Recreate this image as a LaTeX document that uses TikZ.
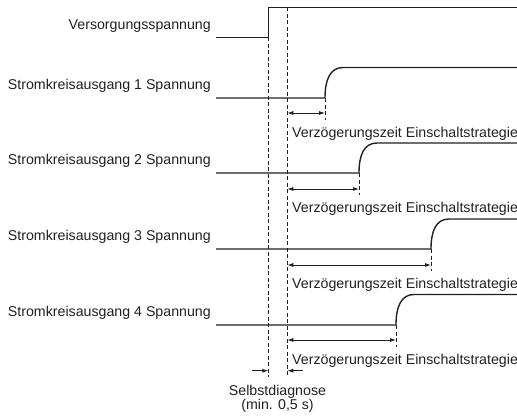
\documentclass[tikz,border=0pt]{standalone}
\usepackage{fontspec}
\setmainfont{Liberation Sans}
\usetikzlibrary{arrows.meta}
\definecolor{ink}{RGB}{35,31,32}
\begin{document}
\begin{tikzpicture}[x=1pt,y=-1pt,
  signal/.style={draw=ink,line width=1.4pt},
  guide/.style={draw=ink,line width=0.7pt,dash pattern=on 4pt off 2.5pt},
  span/.style={draw=ink,line width=0.8pt,{Latex[length=6pt,width=4pt]}-{Latex[length=6pt,width=4pt]}},
  pointer/.style={draw=ink,line width=0.8pt,-{Latex[length=6pt,width=4pt]}},
  lbl/.style={font=\fontsize{14.2}{16}\selectfont,text=ink,inner sep=0pt},
]
\useasboundingbox (0,0) rectangle (517,418);
% supply
\coordinate (s0) at (216,37.3);
\coordinate (s1) at (268.3,37.3);
\coordinate (s2) at (268.3,7.3);
\coordinate (s3) at (517,7.3);
\draw[signal] (s0) -- (s1) -- (s2) -- (s3);
\node[lbl,anchor=base east] (l0) at (211,29.5) {Versorgungsspannung};
% guides
\coordinate (g1b) at (268.3,377);
\coordinate (g2t) at (287.3,7.3);
\coordinate (g2b) at (287.3,377);
\draw[guide] (s1) -- (g1b);
\draw[guide] (g2t) -- (g2b);
% outputs
\foreach \i/\lo/\xr/\hi/\ay in {1/98/325/67.5/113, 2/173/359/143/189, 3/249/431/219/265, 4/325/396/294.5/340}{
  \coordinate (a\i) at (216,\lo);
  \coordinate (b\i) at (\xr,\lo);
  \coordinate (c\i) at (\xr+18,\hi);
  \coordinate (e\i) at (517,\hi);
  \coordinate (t\i) at (\xr,\lo+22);
  \coordinate (p\i) at (287.3,\ay);
  \coordinate (q\i) at (\xr,\ay);
  \draw[signal] (a\i) -- (b\i) .. controls (\xr,\lo-18) and (\xr+5,\hi) .. (c\i) -- (e\i);
  \draw[guide] (b\i) -- (t\i);
  \draw[span] (p\i) -- (q\i);
  \node[lbl,anchor=base east] (l\i) at (211,\lo-8.5) {Stromkreisausgang \i\ Spannung};
  \node[lbl,anchor=base west] (v\i) at (292,\lo+39) {Verzögerungszeit Einschaltstrategie};
}
% self diagnosis
\coordinate (m1) at (252,370.7);
\coordinate (m2) at (268.3,370.7);
\coordinate (m3) at (303,370.7);
\coordinate (m4) at (287.3,370.7);
\draw[pointer] (m1) -- (m2);
\draw[pointer] (m3) -- (m4);
\node[lbl,anchor=base] (sd1) at (277.5,395.5) {Selbstdiagnose};
\node[lbl,anchor=base] (sd2) at (277.5,409.5) {(min. 0,5 s)};
\end{tikzpicture}
\end{document}
